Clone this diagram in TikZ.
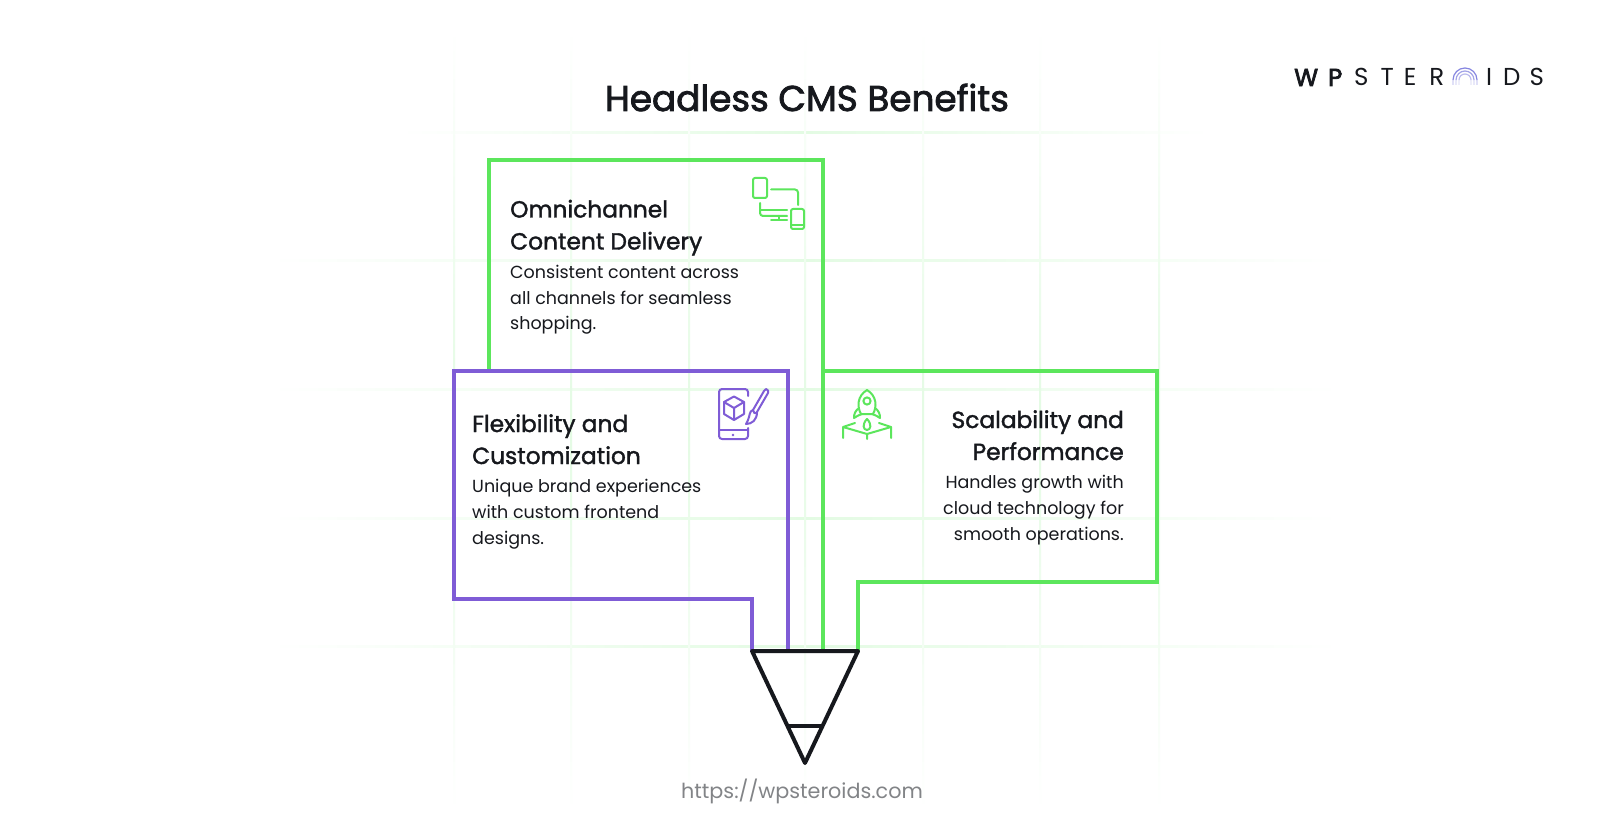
\documentclass[tikz,border=0pt]{standalone}
\usepackage{fontspec}
\setmainfont{Poppins}
\newfontfamily\headf{Poppins}[FakeBold=1.6]
\newfontfamily\titlef{Poppins}[FakeBold=2.2]
\newfontfamily\logobf{Poppins}[FakeBold=3]
\newfontfamily\logof{Poppins}
\usetikzlibrary{calc}
\definecolor{gr}{HTML}{5CE65C}
\definecolor{pu}{HTML}{7F5CD6}
\definecolor{ink}{HTML}{16181D}
\definecolor{gridc}{HTML}{E3FBE3}
\definecolor{urlc}{HTML}{828487}
\definecolor{arcc}{HTML}{8585E0}
\tikzset{
  pic1/.style={x=1pt,y=-1pt},
  frame/.style={line width=4pt,line join=miter,line cap=butt},
  icon/.style={line width=2pt,line cap=round,line join=round},
  title/.style={font=\titlef\fontsize{35.8}{44}\selectfont,text=ink,inner sep=0pt},
  head/.style={font=\headf\fontsize{23.3}{32}\selectfont,text=ink,inner sep=0pt},
  body/.style={font=\fontsize{17.5}{25.8}\selectfont,text=ink,inner sep=0pt},
  logob/.style={inner sep=0pt,anchor=base west,font=\logobf\fontsize{24.5}{26}\selectfont,text=ink},
  logol/.style={inner sep=0pt,anchor=base west,font=\logof\fontsize{24.5}{26}\selectfont,text=ink},
  hg/.style={left color=white,right color=white,middle color=gridc,draw=none},
  vg/.style={top color=white,bottom color=white,middle color=gridc,draw=none},
}
\begin{document}
\begin{tikzpicture}[pic1]
\useasboundingbox (0,0) rectangle (1612,818);
\fill[white] (0,0) rectangle (1612,818);
% grid
\foreach \y in {261,389,518,646}{\shade[hg] (270,\y-1) rectangle (1340,\y+1);}
\foreach \y in {133}{\shade[hg] (400,\y-1) rectangle (1210,\y+1);}
\foreach \x in {454,571,689,805,923,1040,1159}{\shade[vg] (\x-1,30) rectangle (\x+1,810);}
% title
\node[title,anchor=base] (ttl) at (807,111) {Headless CMS Benefits};
% logo
\node[logob] (lg1) at (1294,86) {W\kern10pt P};
\node[logol] (lg2) at (1354,86) {S\kern12pt T\kern10pt E\kern13pt R};
\node[logol] (lg3) at (1486,86) {I\kern11pt D\kern9pt S};
\foreach \r/\o in {12/1,9/.75,6/.55}{
  \draw[arcc,line width=1.2pt,opacity=\o] (1465-\r,80) arc[start angle=180,end angle=360,radius=\r];
  \draw[arcc,line width=1.2pt,opacity=.25*\o] (1465-\r,80) -- (1465-\r,85) (1465+\r,80) -- (1465+\r,85);
}
% frames
\coordinate (tl) at (752,651); \coordinate (tr) at (858,651); \coordinate (tip) at (805,763);
\coordinate (gv) at (823,651); \coordinate (pv) at (788,651);
\draw[frame,gr] (489,371) |- (823,160) -- (gv);
\draw[frame,gr] (823,371) -| (1156.5,582) -| (tr);
\draw[frame,pu] (pv) -- (788,371) -| (454,599) -| (tl);
\draw[frame,ink,line join=round] (tl) -- (tr) -- (tip) -- cycle;
\draw[frame,ink] (788,726) -- (823,726);
% texts
\node[head,anchor=base west,align=left] (h1) at (510,249.5) {Omnichannel\\Content Delivery};
\node[body,anchor=base west,align=left] (b1) at (510,330) {Consistent content across\\all channels for seamless\\shopping.};
\node[head,anchor=base west,align=left] (h2) at (472,464) {Flexibility and\\Customization};
\node[body,anchor=base west,align=left] (b2) at (472,544) {Unique brand experiences\\with custom frontend\\designs.};
\node[head,anchor=base east,align=right] (h3) at (1124,460) {Scalability and\\Performance};
\node[body,anchor=base east,align=right] (b3) at (1124,540) {Handles growth with\\cloud technology for\\smooth operations.};
\node[inner sep=0pt,anchor=base,font=\fontsize{20.7}{26}\selectfont,text=urlc] (url) at (802,798) {https://wpsteroids.com};
% icon devices
\draw[icon,gr,rounded corners=2pt] (753,178) rectangle (767,198);
\draw[icon,gr,rounded corners=3pt] (771,189.5) -- (798,189.5) -- (798,205);
\draw[icon,gr,rounded corners=3pt] (760,203) -- (760,216) -- (787,216);
\draw[icon,gr] (761,210) -- (787,210) (779,216) -- (779,220) (771,220) -- (787,220);
\draw[icon,gr,rounded corners=2pt] (791,209) rectangle (804,229);
\draw[icon,gr] (791,225) -- (804,225);
% icon phone + brush
\draw[icon,pu,rounded corners=3pt] (748,396) -- (748,389) -- (719,389) -- (719,439) -- (748,439) -- (748,428);
\draw[icon,pu] (719,430) -- (748,430);
\fill[pu] (733,435) circle (1.3pt);
\draw[icon,pu] (734,396.5) -- (744,402) -- (744,414) -- (734,420) -- (724,414) -- (724,402) -- cycle (724,402) -- (734,408) -- (744,402) (734,408) -- (734,420);
\draw[icon,pu] (766,389) .. controls (768,390) and (769,391) .. (768,393) -- (757,412) .. controls (755,415) and (753,412) .. (753,410) -- (764,391) -- cycle;
\draw[icon,pu] (753,410) .. controls (749,411) and (750,416) .. (748,420) .. controls (747,423) and (746,423) .. (746,424) .. controls (752,424) and (757,420) .. (757,412);
% icon rocket
\draw[icon,gr] (867,390) .. controls (857,396) and (857,407) .. (861,414) -- (873,414) .. controls (877,407) and (877,396) .. (867,390) -- cycle;
\draw[icon,gr] (867,401) circle (3.6pt);
\draw[icon,gr] (859,408) .. controls (855,411) and (854,414) .. (854,418) .. controls (857,416) and (859,415) .. (862,414);
\draw[icon,gr] (875,408) .. controls (879,411) and (880,414) .. (880,418) .. controls (877,416) and (875,415) .. (872,414);
\draw[icon,gr] (867,419) .. controls (862,424) and (863,430) .. (867,430) .. controls (871,430) and (872,424) .. (867,419) -- cycle;
\draw[icon,gr] (855,423) -- (843,427) -- (843,438) (843,427) -- (867,434) -- (891,427) -- (891,438) (891,427) -- (879,423) (867,434) -- (867,439);
\end{tikzpicture}
\end{document}
